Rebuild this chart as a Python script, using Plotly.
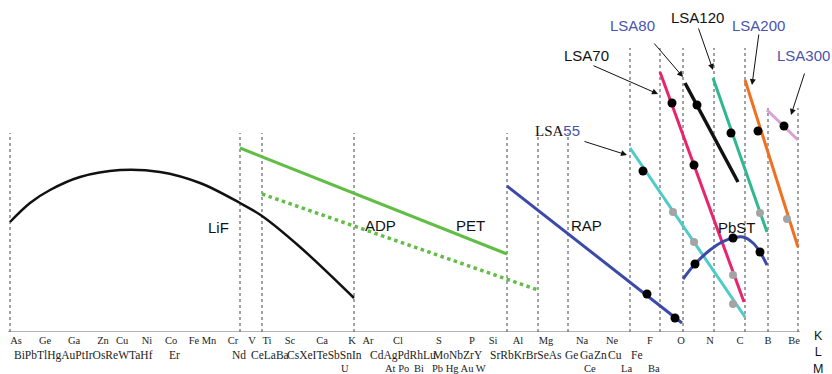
import plotly.graph_objects as go

# ---------------- data (x: element-position scale, y: relative response) ----------------
k_labels = ["As", "Ge", "Ga", "Zn", "Cu", "Ni", "Co", "Fe", "Mn", "Cr", "V", "Ti", "Sc", "Ca", "K",
            "Ar", "Cl", "S", "P", "Si", "Al", "Mg", "Na", "Ne", "F", "O", "N", "C", "B", "Be"]
k_pos = [16, 45, 74, 103, 122, 147, 171, 194, 209, 233, 252, 267, 290, 322, 352,
         368, 398, 439, 472, 493, 518, 546, 582, 612, 650, 681, 710, 740, 768, 794]

l_labels = ["BiPbTlHgAuPtIrOsReWTaHf", "Er", "Nd", "CeLaBa", "CsXeITeSbSnIn", "CdAgPdRhLu",
            "MoNbZrY", "SrRbKrBrSeAs", "Ge", "Ga", "Zn", "Cu", "Fe"]
l_pos = [12, 167, 230, 249, 285, 368, 431, 488, 563, 578, 592, 606, 629]

m_labels = ["U", "At Po", "Bi", "Pb Hg Au W", "Ce", "La", "Ba"]
m_pos = [339, 383, 412, 430, 582, 619, 646]

shell_labels = ["K", "L", "M"]

boundary_x = [10, 240, 262, 354, 507, 538, 568, 630, 660, 683, 714, 745, 768, 798]
boundary_top = [199, 199, 199, 199, 199, 199, 199, 284, 284, 284, 284, 284, 224, 224]

lif_x = [10, 30, 50, 80, 120, 160, 200, 240, 262, 300, 354]
lif_y = [110, 129, 142, 155, 162, 160, 149, 129, 116, 85, 34]

adp_x = [240, 507]
adp_y = [184, 78]
pet_x = [262, 538]
pet_y = [138, 42]
rap_x = [507, 682]
rap_y = [146, 9]

lsa55_x = [630, 745]
lsa55_y = [184, 15]
lsa70_x = [660, 744]
lsa70_y = [260, 30]
lsa80_x = [713, 767]
lsa80_y = [254, 100]
lsa120_x = [685, 738]
lsa120_y = [249, 150]
lsa200_x = [745, 798]
lsa200_y = [252, 85]
lsa300_x = [767, 798]
lsa300_y = [222, 192]

pbst_x = [683, 695, 710, 722, 733, 743, 753, 760, 767]
pbst_y = [53, 68, 82, 90, 94, 95, 89, 80, 67]

black_dot_x = [643, 672, 694, 697, 731, 758, 784, 647, 675, 695, 733, 760]
black_dot_y = [161, 229, 167, 227, 199, 201, 206, 38, 14, 68, 94, 80]
gray_dot_x = [673, 694, 733, 733, 760, 787]
gray_dot_y = [120, 90, 57, 28, 119, 113]

crystal_names = ["LiF", "ADP", "PET", "RAP", "PbST"]
crystal_x = [218, 380, 470, 586, 737]
crystal_y = [105, 107, 107, 107, 105]

lsa_names = ["LSA55", "LSA70", "LSA80", "LSA120", "LSA200", "LSA300"]
lsa_text_x = [557, 586, 632, 697, 758, 803]
lsa_text_y = [202, 277, 307, 315, 307, 277]
lsa_tail_x = [583, 592, 653, 698, 759, 805]
lsa_tail_y = [191, 267, 290, 305, 299, 260]
lsa_head_x = [627, 658, 683, 713, 752, 791]
lsa_head_y = [177, 238, 255, 262, 247, 217]

PLOT_H = 332.0  # y-axis span, used to place rows below the axis in paper units
BLUE_TXT = "#4a53ad"
GREEN = "#62bd46"
BLUE = "#3b4aa8"

fig = go.Figure()

def line(x, y, color, width=3, dash="solid", shape="linear"):
    fig.add_trace(go.Scatter(x=x, y=y, mode="lines", line=dict(color=color, width=width, dash=dash, shape=shape),
                             hoverinfo="skip", showlegend=False, cliponaxis=False))

# boundaries
for bx, bt in zip(boundary_x, boundary_top):
    fig.add_shape(type="line", x0=bx, x1=bx, y0=0, y1=bt, xref="x", yref="y",
                  line=dict(color="#444444", width=1, dash="dot"), layer="below")
# baseline
fig.add_shape(type="line", x0=8, x1=800, y0=0, y1=0, xref="x", yref="y",
              line=dict(color="#666666", width=1))

line(lif_x, lif_y, "#111111", 2.5, shape="spline")
line(adp_x, adp_y, GREEN, 3)
line(pet_x, pet_y, GREEN, 3.5, dash="dot")
line(rap_x, rap_y, BLUE, 3)
line(lsa55_x, lsa55_y, "#4fc9c9", 3)
line(lsa70_x, lsa70_y, "#e8246c", 3)
line(lsa120_x, lsa120_y, "#111111", 3.5)
line(lsa80_x, lsa80_y, "#2fb890", 3)
line(lsa200_x, lsa200_y, "#f07020", 3)
line(lsa300_x, lsa300_y, "#d9a0d6", 3)
line(pbst_x, pbst_y, BLUE, 3, shape="spline")

fig.add_trace(go.Scatter(x=gray_dot_x, y=gray_dot_y, mode="markers",
                         marker=dict(color="#a4a4a4", size=8), hoverinfo="skip", showlegend=False))
fig.add_trace(go.Scatter(x=black_dot_x, y=black_dot_y, mode="markers",
                         marker=dict(color="#000000", size=9), hoverinfo="skip", showlegend=False))

ann = []
for n, x, y in zip(crystal_names, crystal_x, crystal_y):
    ann.append(dict(x=x, y=y, xref="x", yref="y", text=n, showarrow=False,
                    font=dict(family="Liberation Sans, Arial", size=15, color="#111")))

lsa_colors = ["#111", "#111", BLUE_TXT, "#111", BLUE_TXT, BLUE_TXT]
for i, n in enumerate(lsa_names):
    if n == "LSA55":
        txt = ("<span style='font-family:Liberation Serif'>LSA</span>"
               "<span style='color:%s'>55</span>" % BLUE_TXT)
    else:
        txt = n
    ann.append(dict(x=lsa_text_x[i], y=lsa_text_y[i], xref="x", yref="y", text=txt, showarrow=False,
                    font=dict(family="Liberation Sans, Arial", size=15, color=lsa_colors[i])))
    ann.append(dict(x=lsa_head_x[i], y=lsa_head_y[i], xref="x", yref="y", text="",
                    ax=lsa_tail_x[i], ay=lsa_tail_y[i], axref="x", ayref="y",
                    showarrow=True, arrowhead=2, arrowsize=1.2, arrowwidth=1,
                    arrowcolor="#111", standoff=0, startstandoff=0))

serif_l = dict(family="Liberation Serif, Times New Roman", size=11.5, color="#222")
serif_m = dict(family="Liberation Serif, Times New Roman", size=10.5, color="#222")
for t, x in zip(l_labels, l_pos):
    ann.append(dict(x=x, y=-23 / PLOT_H, xref="x", yref="paper", text=t, showarrow=False, xanchor="left",
                    yanchor="middle", font=serif_l))
for t, x in zip(m_labels, m_pos):
    ann.append(dict(x=x, y=-36 / PLOT_H, xref="x", yref="paper", text=t, showarrow=False, xanchor="left",
                    yanchor="middle", font=serif_m))
ann.append(dict(x=818, y=-21 / PLOT_H, xref="x", yref="paper", text="<br>".join(shell_labels),
                showarrow=False, yanchor="middle", borderpad=0,
                font=dict(family="Liberation Sans, Arial", size=12.5, color="#111")))

fig.update_layout(
    width=832, height=374, margin=dict(l=0, r=0, t=0, b=42),
    paper_bgcolor="white", plot_bgcolor="white",
    annotations=ann,
    xaxis=dict(range=[0, 832], showgrid=False, zeroline=False, showline=False, ticks="",
               tickmode="array", tickvals=k_pos, ticktext=k_labels, tickangle=0,
               tickfont=dict(family="Liberation Serif, Times New Roman", size=10.5, color="#222")),
    yaxis=dict(range=[0, 332], showgrid=False, zeroline=False, showline=False, showticklabels=False),
)

fig.write_html("out.html")
